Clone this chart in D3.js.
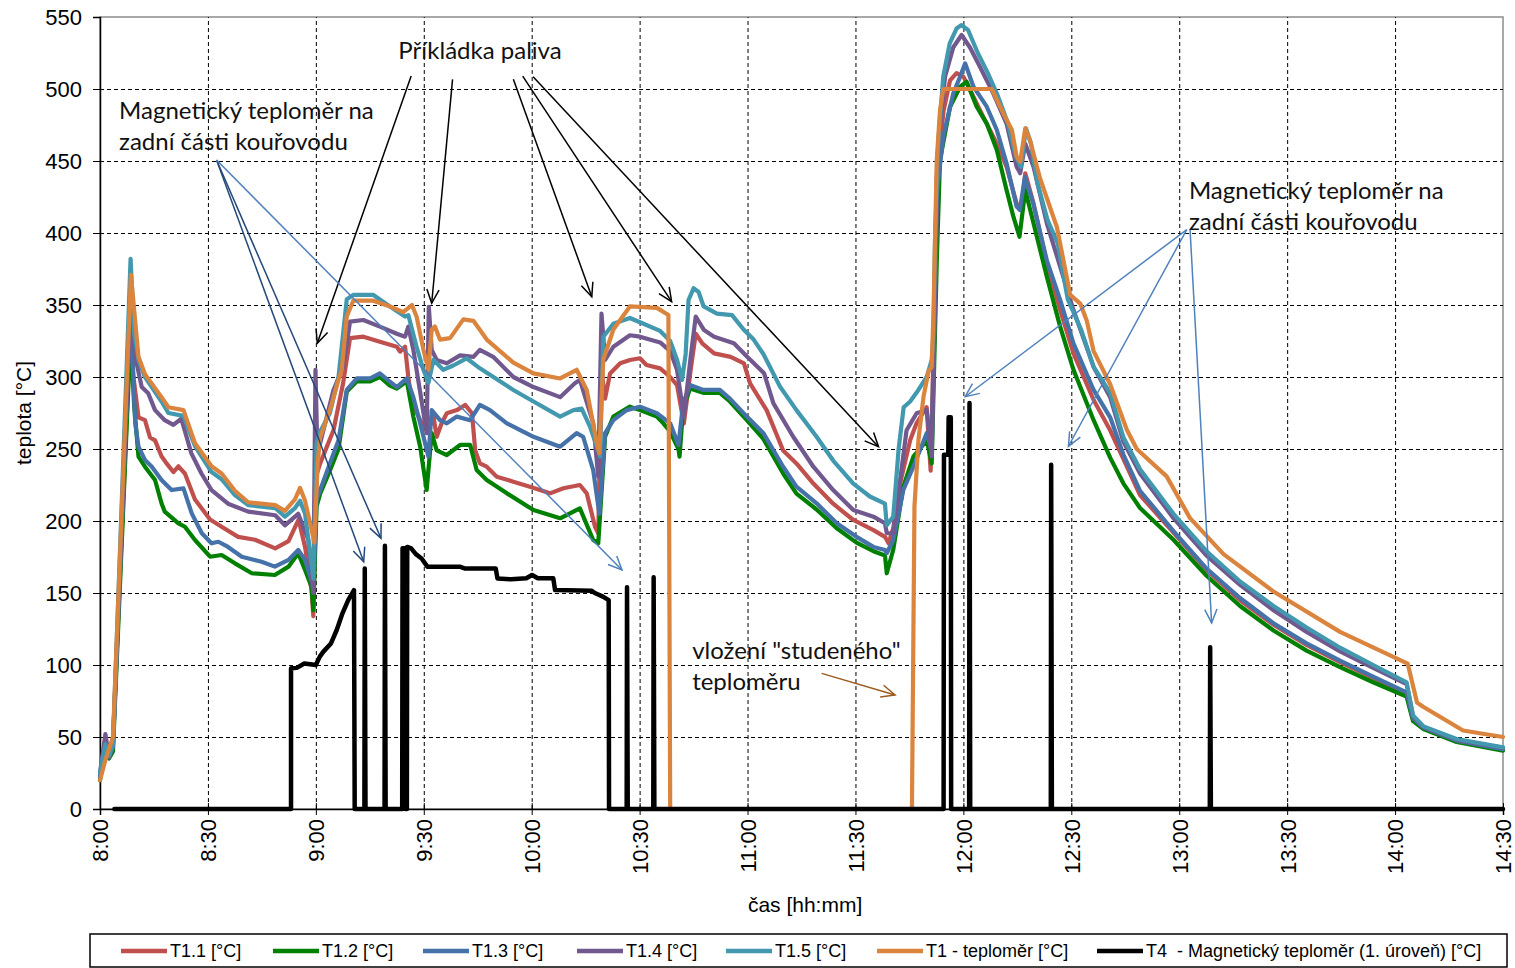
<!DOCTYPE html>
<html>
<head>
<meta charset="utf-8">
<script src="https://cdn.jsdelivr.net/npm/d3@7"></script>
<style>
  body { margin: 0; background: #fff; }
  text { font-family: "Liberation Sans", Arial, sans-serif; }
  .note { font-family: Lato, "Open Sans", sans-serif; font-size: 24px; fill: #111; }
  .legend text { font-family: "Liberation Sans Narrow", "Arial Narrow", "Liberation Sans", sans-serif; white-space: pre; }
</style>
</head>
<body>
<div id="chart"></div>
<script>
// time in minutes after 8:00, temperature in °C
const xTicks = [0, 30, 60, 90, 120, 150, 180, 210, 240, 270, 300, 330, 360, 390];
const tickLabels = ["8:00", "8:30", "9:00", "9:30", "10:00", "10:30", "11:00", "11:30",
  "12:00", "12:30", "13:00", "13:30", "14:00", "14:30"];
const yTicks = [0, 50, 100, 150, 200, 250, 300, 350, 400, 450, 500, 550];

const seriesNames = ["T1.1 [°C]", "T1.2 [°C]", "T1.3 [°C]", "T1.4 [°C]", "T1.5 [°C]",
  "T1 - teploměr [°C]", "T4  - Magnetický teploměr (1. úroveň) [°C]"];
const seriesColors = ["#c0504d", "#008000", "#4672aa", "#71588f", "#4198af", "#db843d", "#000000"];

const t11 = [[0,22],[1.5,45],[2.5,36],[3.6,46],[8.5,335],[9.3,300],[10.7,272],[12.5,270],[13.9,258],[15.3,256],[17.1,245],[18.5,240],[20.4,234],[21.8,238],[23.6,233],[26.4,215],[30.6,201],[33.8,196],[38.4,189],[43.1,187],[48.7,181],[52.4,186],[55.2,201],[57,182],[58.8,152],[59.3,134],[60.2,232],[61.2,240],[64.9,263],[67.6,296],[69.5,327],[73.2,328],[77.8,324.5],[82.5,321],[83.4,317.6],[84.8,321],[85.7,300],[86.7,282],[89.9,265.5],[91.3,263],[92.7,272.5],[93.6,258.5],[95,268],[96.4,274.8],[99.2,277],[101.5,280.6],[103.4,274.8],[104.3,249],[105.6,240],[107.5,237.7],[110.3,230.8],[114.9,227.3],[119.5,223.8],[122.3,221.5],[125.1,219.2],[128.8,222.7],[133.4,225],[135.3,219.2],[137.6,196],[138.5,191.5],[139.4,305],[140.4,285],[141.8,302.5],[144.6,309.5],[147.3,311.8],[150.1,313],[151.9,308.3],[155.7,306],[158.5,300],[160.4,294.4],[162.3,267.8],[164.2,305],[165.6,330],[167.4,323.4],[170.7,316.4],[175.3,314],[179,309.5],[180.7,295.6],[185.3,277],[189.9,249],[193.6,240],[198.3,226],[203.8,212],[209.4,200.7],[215,193.7],[218.2,189],[219.2,184.5],[220.5,195],[222.4,226],[225.2,256],[227,268],[229.8,279],[230.9,235],[231.8,330],[232.6,439],[234.5,485],[236.3,506],[238.1,511],[240,508.6],[242.8,494.7],[245.5,480.8],[249.3,462],[252,446],[254.8,420.6],[256.2,416],[257.2,441.5],[259.5,420.6],[263.2,379],[266.9,346.5],[270.6,316.4],[276.2,284],[280.8,263],[284.5,243],[289.1,218],[298.4,192],[307.6,166],[316.9,145],[326.2,128],[335.4,114],[344.7,102],[353.9,91],[363.2,80],[365,62],[367.9,56],[377.1,47],[390,41]];

const t12 = [[0,20],[1.5,42],[2.5,35],[3.6,40],[8.5,330],[9.5,280],[10.7,244.7],[12.5,237.7],[15.3,228.5],[17.1,212.3],[18,206.5],[21.8,198.4],[23.6,196],[26.4,186.8],[30.6,175.2],[33.8,176.4],[37.5,170.6],[42.2,163.7],[48.6,162.5],[52.4,168.3],[55.1,177.6],[57,166],[58.8,154.4],[59.3,138],[60.2,210],[61.2,219],[63.9,235],[66.3,250],[68.6,290],[71.4,297],[75.1,297],[77.8,300],[80.6,294],[82.5,292],[85.3,297],[87.1,272.5],[89,251.6],[90.8,221.5],[92.2,261],[93.6,249],[96.4,245.8],[100.1,252.8],[102.9,252.8],[104.7,235.4],[107.5,228.5],[113.1,219.2],[120.5,207.6],[127.9,201.9],[133.4,208.8],[137.1,186.8],[138.5,184.5],[140.4,258.5],[142.7,272.5],[147.3,279.4],[150.1,277],[154.8,272.5],[156.6,267.8],[158.5,262],[160.8,250],[161.1,244.7],[162.1,278],[164,292],[167.7,289],[172.3,289],[175.1,283],[179.8,270],[184.4,257],[189.9,233],[193.6,219],[199.2,208],[204.8,195],[210.3,185],[215,179],[218.2,176],[218.7,163.7],[220.5,180],[223.3,223.8],[226.1,244.7],[229.8,256],[231.2,240],[232.6,380],[233.5,450.7],[236.3,487.7],[239.1,501.6],[240.9,505],[243.7,487.7],[246.5,476],[249.3,457.6],[252,429.9],[253.9,411.3],[255.6,397.4],[257.2,429.9],[259.5,406.7],[263.2,369.7],[266.9,335],[270.6,305],[276.2,270],[280.8,244],[284.5,226],[289.1,209],[298.4,187],[307.6,162],[316.9,141],[326.2,124],[335.4,110],[344.7,98.5],[353.9,88],[363.2,78],[365,61],[367.9,55.5],[377.1,46.5],[390,40.5]];

const t13 = [[0,22],[1.5,45],[2.5,36],[3.6,43],[8.5,350],[9.2,302.5],[9.8,267.8],[10.7,251.6],[12.5,242.4],[14.4,237.7],[17.1,228.5],[19.9,221.5],[23.2,222.7],[25.5,205.3],[28.3,191.5],[31,184.5],[32.9,185.6],[35.6,182],[39.4,175.2],[44.9,171.7],[48.6,168.3],[52.4,173],[55.1,179.9],[57,173],[59.3,154.4],[60.2,215],[61.2,221.5],[63.9,240],[66.3,256],[68.6,291],[71.4,299],[75.1,299],[77.8,302.5],[80.6,296.7],[82.5,293],[85.3,299],[87.1,286],[89,267.8],[91.3,244.7],[92.2,277],[94.5,270],[96.4,267.8],[99.2,272.5],[102.9,270],[105.6,280.6],[108.4,277],[113.1,267.8],[120.5,258.5],[127.9,251.6],[132.5,261],[134.3,258.5],[137.1,235.4],[138.8,205],[140.4,261],[142.7,270],[146.4,277],[150.1,279.4],[154.8,274.8],[158.5,267.8],[160.8,252.8],[162.1,281.7],[164,294.4],[167.7,291],[172.3,291],[175.1,285],[179.8,272.5],[184.4,261],[189.9,237.7],[193.6,223.8],[199.2,212.3],[204.8,198.4],[210.3,189],[215,182],[218.2,179.9],[218.7,177.6],[220.5,186.8],[223.3,221.5],[226.1,237.7],[229.8,261],[231.2,249],[232.6,427.6],[234.4,466.9],[237.2,497],[239.1,508.6],[240.5,517.8],[242.8,501.6],[246.5,487.7],[249.3,471.5],[252,448.4],[254.8,418.3],[255.7,416],[257.1,439],[259.4,420.6],[263.2,381],[266.9,353.5],[270.6,323.4],[276.2,291],[280.8,272],[284.5,246],[289.1,221],[298.4,193],[307.6,167],[316.9,146.5],[326.2,129],[335.4,115],[344.7,103],[353.9,92],[363.2,81],[365,63],[367.9,56.5],[377.1,47.5],[390,41.5]];

const t14 = [[0,25],[1.5,52],[2.5,36],[3.6,45],[8.5,350],[9.5,325],[9.8,314],[11.6,293],[13.4,288.7],[15.3,277],[18,270],[20.4,266.7],[22.6,271],[25.4,247],[28.2,233],[31,221.5],[35.6,212],[41.2,206.5],[48.7,204],[51.4,197],[55.1,205],[57.9,187],[59.3,150],[59.9,305],[60.4,250],[61.2,254],[64.9,291],[67.6,307],[69.5,338.4],[73.2,339.6],[77.8,335],[82.5,330],[84.8,328],[85.7,335],[87.1,318.8],[88.9,291],[90.8,261],[91.4,348.8],[92.2,318.8],[93.6,311.8],[96.4,309.5],[100.1,315],[103.8,314],[105.6,318.8],[109.3,314],[114.9,300],[120.5,293],[127.9,286],[132,295.6],[133.4,298],[137.1,268],[138.5,230.8],[139.4,344],[140.4,311.8],[142.7,321],[147.3,329],[150.1,328],[155.7,324],[158.5,318],[160.4,305],[162.3,272.5],[164.2,314],[165.6,342],[167.9,332.6],[170.7,328],[176.2,323.4],[179.9,314],[184.6,302.6],[187.2,281.7],[192.7,258.5],[198.3,237.7],[203.8,221.5],[209.4,207.6],[215,203],[218.2,198.4],[218.7,191.5],[220.5,191.5],[222.9,237.7],[224.2,263],[227,274.8],[229.8,277],[231.2,245],[232,340],[233,462],[234.9,508.5],[237.2,529],[239.5,537.5],[241.8,529],[244.6,515.5],[248.3,497],[252,476],[254.8,446],[255.8,441.5],[257.2,462],[259.5,446],[263.2,406.7],[266.9,376.6],[270.6,346.5],[276.2,307],[280.8,286],[284.5,255],[289.1,233],[298.4,202],[307.6,176],[316.9,155.6],[326.2,138],[335.4,123],[344.7,109.5],[353.9,98],[363.2,86.8],[365,64],[367.9,57],[377.1,48],[390,42.5]];

const t15 = [[0,25],[1.5,45],[2.5,37],[3.6,45],[8.5,382],[9.5,330],[10.7,312],[12.5,300],[17.1,283],[19,275],[23.2,273],[26.4,252],[31,234],[33.8,229],[37.5,218],[41.2,211],[48.7,209],[51.4,203],[54.2,209],[55.6,214],[57,205],[58.8,170],[59.3,160],[60.2,254],[61.2,262],[63.9,275],[66.3,300],[68.6,354],[70.4,357],[76,357],[80.6,349],[84.8,342],[85.7,343],[88,321],[89.9,305],[91.3,296],[92.7,312],[95.4,305],[98.2,308],[101.9,313],[105.6,306],[114.9,291],[120.5,283],[127.9,272.5],[131.6,277],[133.9,278],[136.2,265.5],[138.5,249],[139,244.7],[139.9,328],[142.7,337],[147.3,341],[150.1,338],[155.7,332],[158.5,325],[160.4,312],[161.8,298],[162.8,316],[163.6,353.5],[165,361.6],[166.4,359],[167.8,349],[171.5,344],[175.7,343],[178.9,333],[181.7,326],[184.4,316],[189.1,293],[193.6,277],[199.2,258.5],[203.8,242],[209.4,226],[214,217],[218.2,212],[218.7,197],[220.5,203],[222,250],[223.4,279],[225.2,283],[227.5,291],[229.8,300],[231.2,312],[231.7,330],[232.1,393],[233,462],[234.4,508.5],[236.2,531.7],[238.1,542],[239.4,544.4],[241.3,541],[244,525],[246.8,511],[249.6,495],[252.4,476],[254.6,453],[256,446],[257.4,472.7],[258.8,462],[260.6,434.5],[263.4,409],[266.2,393],[269,354],[272.7,333],[276.2,307],[280.8,289],[284.5,258],[289.1,236],[298.4,205],[307.6,179],[316.9,158],[326.2,141],[335.4,126],[344.7,112],[353.9,100],[363.2,88],[365,65],[367.9,57.4],[377.1,48.6],[390,42.8]];

const t1 = [[0,20],[1.5,34],[3.6,50],[8.6,371],[10.7,314],[12.5,302],[17.1,286],[19,279],[23.2,277],[26.4,254],[31,238],[33.8,233],[37.5,221],[41.2,213],[48.7,211],[51.4,207],[54.2,215],[55.6,223],[57,214],[58.8,194],[59.6,185],[60.5,240],[61.2,258],[63.9,277],[66.3,298],[67.2,305],[68.6,342],[70.4,353],[76,353],[80.6,349],[84.3,345],[86.7,350],[88,342],[89.9,319],[91.3,305],[92.2,333],[93.1,335],[94.5,326],[97.3,327],[101,340],[103.8,339],[107.5,326],[114.9,310],[120.5,302.5],[127.9,299],[132.5,305],[135.3,291],[138.1,254],[138.8,247],[139.9,312],[142.7,333],[147.3,349],[154.8,348],[158,343],[158.5,0],[225.7,0],[226,90],[226.4,210],[227.5,256],[228.9,286],[230.3,304],[231.2,307],[231.7,346],[232.1,393],[232.6,451],[233.5,485],[234.4,500],[247.9,500],[251.1,483],[253.5,471.5],[254.8,453],[255.8,449.5],[257.2,472.7],[258.5,464.6],[261.3,438],[266,404],[269.7,357],[272.5,351],[274.3,339],[276.2,318],[280.8,295],[285.4,263.5],[288.2,250],[296.5,231],[303,202],[312.3,177],[326.2,151],[344.7,123],[363.5,101],[366.1,74],[367.8,71],[378.9,54.5],[390,50]];

const t4 = [[4,0],[53.1,0],[53.1,97.7],[54.7,98],[56.8,101],[60,100],[61.1,105.8],[62.1,109.3],[64.2,115],[65.8,124.3],[67.4,135.9],[69,145],[70.6,152],[70.8,0],[73.5,0],[73.6,167],[73.8,0],[79.1,0],[79.2,182.8],[79.4,0],[84,0],[84.1,181],[84.8,181],[84.9,0],[85.3,0],[85.4,182],[86.5,181],[87.8,177],[89.4,174],[91,168.3],[100,168.3],[101.5,167],[110,167],[110.5,160],[114.3,159.5],[118.5,160.2],[120.1,162.5],[121.7,160.2],[126,160.2],[126.5,152],[136.6,151.6],[137.7,149.8],[139.8,147.5],[141.4,145],[141.5,0],[146.4,0],[146.5,154],[146.7,0],[153.8,0],[153.9,161],[154.1,0],[234.5,0],[234.6,246],[235.8,246],[235.9,272],[236.5,272],[236.6,0],[241.6,0],[241.7,282],[241.9,0],[264.3,0],[264.4,239],[264.6,0],[308.5,0],[308.6,112.4],[308.8,0],[390,0]];

const seriesData = [t11, t12, t13, t14, t15, t1, t4];

// callouts, points in (minutes, °C)
const noteTexts = [
  { lines: ["Příkládka paliva"], at: [82.9, 520.8] },
  { lines: ["Magnetický teploměr na", "zadní části kouřovodu"], at: [5.3, 479.2] },
  { lines: ["Magnetický teploměr na", "zadní části kouřovodu"], at: [302.7, 423.6] },
  { lines: ["vložení \"studeného\"", "teploměru"], at: [164.6, 104.2] }
];
const noteArrows = [
  { from: [86.5, 509], to: [60.4, 323.4], color: "#000" },
  { from: [98.0, 506.7], to: [92.2, 351.2], color: "#000" },
  { from: [114.9, 506.7], to: [136.7, 355.8], color: "#000" },
  { from: [117.5, 509], to: [158.9, 352.3], color: "#000" },
  { from: [120.4, 508.5], to: [216.4, 251.6], color: "#000" },
  { from: [32.4, 450.7], to: [73.3, 171.7], color: "#24487a" },
  { from: [32.4, 450.7], to: [78.1, 188], color: "#24487a" },
  { from: [32.4, 450.7], to: [145.1, 166], color: "#4f81bd" },
  { from: [302.1, 402.4], to: [240.5, 286.3], color: "#4f81bd" },
  { from: [302.1, 402.4], to: [269.2, 251.9], color: "#4f81bd" },
  { from: [303, 402.8], to: [309, 129.2], color: "#4f81bd" },
  { from: [200.6, 94.2], to: [221, 79.2], color: "#9c5a1c" }
];

const W = 1515, H = 968;
const margin = { top: 17, right: 12, bottom: 159, left: 100 };
const width = W - margin.left - margin.right;
const height = H - margin.top - margin.bottom;

const svg = d3.select("#chart").append("svg")
  .attr("width", W).attr("height", H);

const g = svg.append("g")
  .attr("transform", `translate(${margin.left}, ${margin.top})`);

const x = d3.scaleLinear().domain([0, 390]).range([0, width]);
const y = d3.scaleLinear().domain([0, 550]).range([height, 0]);

// plot border (grey)
g.append("rect")
  .attr("width", width).attr("height", height)
  .attr("fill", "none").attr("stroke", "#8c8c8c").attr("stroke-width", 1.5);

// grid
g.append("g")
  .call(d3.axisLeft(y).tickValues(yTicks.slice(1, -1)).tickSize(-width).tickFormat(""))
  .call((a) => a.select(".domain").remove())
  .selectAll("line")
  .attr("stroke", "#000").attr("stroke-dasharray", "4,3");

g.append("g")
  .attr("transform", `translate(0, ${height})`)
  .call(d3.axisBottom(x).tickValues(xTicks.slice(1, -1)).tickSize(-height).tickFormat(""))
  .call((a) => a.select(".domain").remove())
  .selectAll("line")
  .attr("stroke", "#000").attr("stroke-dasharray", "4,3");

// axes
const yAxis = g.append("g")
  .call(d3.axisLeft(y).tickValues(yTicks).tickSize(7).tickPadding(11));
yAxis.select(".domain").attr("stroke", "#000").attr("stroke-width", 1.5);
yAxis.selectAll("text").style("font-size", "22px").attr("fill", "#000");

const xAxis = g.append("g")
  .attr("transform", `translate(0, ${height})`)
  .call(d3.axisBottom(x).tickValues(xTicks).tickSize(6)
    .tickFormat((d, i) => tickLabels[i]));
xAxis.select(".domain").attr("stroke", "#000").attr("stroke-width", 1.5);
xAxis.selectAll(".tick line").attr("y1", -6).attr("stroke", "#000");
xAxis.selectAll("text")
  .style("font-size", "22px").attr("fill", "#000")
  .attr("text-anchor", "end")
  .attr("transform", "rotate(-90)")
  .attr("x", -10).attr("y", 0).attr("dy", "0.36em");

// axis titles
svg.append("text")
  .attr("transform", `translate(31, ${margin.top + height / 2}) rotate(-90)`)
  .attr("text-anchor", "middle")
  .style("font-size", "21px")
  .text("teplota [°C]");

svg.append("text")
  .attr("x", margin.left + x(196)).attr("y", 912)
  .attr("text-anchor", "middle")
  .style("font-size", "21px")
  .text("čas [hh:mm]");

// series
const line = d3.line()
  .x((d) => x(d[0]))
  .y((d) => y(d[1]));

g.append("g").selectAll("path")
  .data(seriesData)
  .join("path")
  .attr("d", line)
  .attr("fill", "none")
  .attr("stroke", (_, i) => seriesColors[i])
  .attr("stroke-width", (_, i) => (i === 6 ? 4.5 : 4.2))
  .attr("stroke-linejoin", "round")
  .attr("stroke-linecap", "round");

// callouts
const notes = g.append("g");
noteArrows.forEach((a) => {
  const x1 = x(a.from[0]), y1 = y(a.from[1]);
  const x2 = x(a.to[0]), y2 = y(a.to[1]);
  const ang = Math.atan2(y2 - y1, x2 - x1);
  const len = 15, spread = 0.42;
  notes.append("line")
    .attr("x1", x1).attr("y1", y1).attr("x2", x2).attr("y2", y2)
    .attr("stroke", a.color).attr("stroke-width", 1.5);
  notes.append("path")
    .attr("d", `M${x2 - len * Math.cos(ang - spread)},${y2 - len * Math.sin(ang - spread)}` +
      `L${x2},${y2}L${x2 - len * Math.cos(ang + spread)},${y2 - len * Math.sin(ang + spread)}`)
    .attr("fill", "none").attr("stroke", a.color).attr("stroke-width", 1.5);
});

noteTexts.forEach((n) => {
  const t = notes.append("text")
    .attr("class", "note")
    .attr("x", x(n.at[0])).attr("y", y(n.at[1]));
  n.lines.forEach((s, i) => {
    t.append("tspan").attr("x", x(n.at[0])).attr("dy", i === 0 ? 0 : 31).text(s);
  });
});

// legend
const legendX = [121, 273, 423, 577, 726, 877, 1097];
const legend = svg.append("g").attr("class", "legend");
legend.append("rect")
  .attr("x", 90).attr("y", 934).attr("width", 1417).attr("height", 33)
  .attr("fill", "#fff").attr("stroke", "#000").attr("stroke-width", 1.5);

const item = legend.selectAll("g.item")
  .data(seriesNames)
  .join("g")
  .attr("class", "item")
  .attr("transform", (_, i) => `translate(${legendX[i]}, 951)`);

item.append("line")
  .attr("x1", 0).attr("x2", 46)
  .attr("stroke", (_, i) => seriesColors[i])
  .attr("stroke-width", 4.5);

item.append("text")
  .attr("x", 49).attr("dy", "0.36em")
  .style("font-size", "18px")
  .text((d) => d);
</script>
</body>
</html>
